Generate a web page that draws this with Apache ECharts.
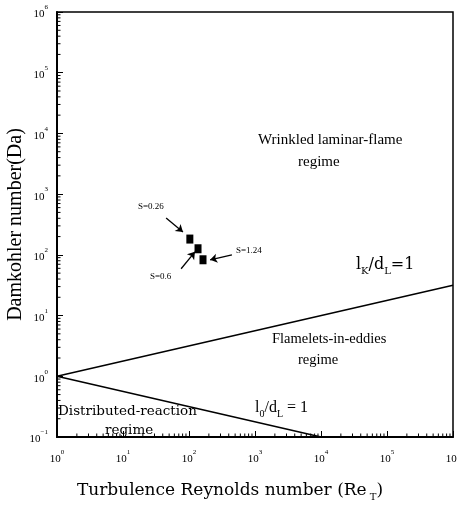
<!DOCTYPE html>
<html><head><meta charset="utf-8">
<script src="https://cdn.jsdelivr.net/npm/echarts@6/dist/echarts.min.js"></script>
<style>html,body{margin:0;padding:0;background:#fff}#c{width:457px;height:506px}</style>
</head><body><div id="c"></div>
<script>
// Tick exponents (labels 10^n)
var xTickExp = [0, 1, 2, 3, 4, 5, 6];
var yTickExp = [-1, 0, 1, 2, 3, 4, 5, 6];
// Boundary lines
var lineKolmogorov = [[1, 1], [1e6, 31.6]];      // lK/dL = 1
var lineIntegral = [[1, 1], [1e4, 0.1]];          // l0/dL = 1
// Experimental points
var pointNames = ['S=0.26', 'S=0.6', 'S=1.24'];
var pointRe = [103, 137, 163];
var pointDa = [182, 126, 83];
// Annotation arrows [from, to] in data space
var arrows = [
  [[45, 404], [81, 238]],
  [[76, 59], [123, 112]],
  [[447, 100], [209, 83]]
];
var minorX = [], minorY = [];
for (var e = 0; e < 6; e++) for (var k = 2; k <= 9; k++) minorX.push(k * Math.pow(10, e));
for (var e2 = -1; e2 < 6; e2++) for (var k2 = 2; k2 <= 9; k2++) minorY.push(k2 * Math.pow(10, e2));

var FONT = '"Liberation Serif", "DejaVu Serif", serif';
function expLabel(v) {
  var n = Math.round(Math.log10(v));
  return '{b|10}{s|' + (n < 0 ? '\u2212' + (-n) : n) + '}';
}
var tickRich = {
  b: {fontFamily: FONT, fontSize: 11, color: '#000', lineHeight: 16, verticalAlign: 'bottom'},
  s: {fontFamily: FONT, fontSize: 7, color: '#000', lineHeight: 16, verticalAlign: 'top'}
};

var chart = echarts.init(document.getElementById('c'));
var option = {
  animation: false,
  backgroundColor: '#fff',
  grid: {left: 57, right: 4, top: 12, bottom: 69, show: true, borderColor: '#000', borderWidth: 1.5,
    containLabel: false, outerBoundsMode: 'none'},
  xAxis: {
    type: 'log', logBase: 10, min: 1, max: 1e6,
    axisLine: {lineStyle: {color: '#000', width: 2}},
    axisTick: {inside: true, length: 6, lineStyle: {color: '#000', width: 1}},
    splitLine: {show: false},
    axisLabel: {margin: 12, formatter: function (v) {
      var n = Math.round(Math.log10(v));
      return xTickExp.indexOf(n) >= 0 ? expLabel(v) : '';
    }, rich: tickRich},
    name: '{t|Turbulence Reynolds number (Re}{sub| T}{t|)}',
    nameLocation: 'middle', nameGap: 43, nameMoveOverlap: false,
    nameTextStyle: {padding: [0, 50, 0, 0], rich: {
      t: {fontFamily: '"DejaVu Serif", serif', fontSize: 17, color: '#000', lineHeight: 22},
      sub: {fontFamily: '"DejaVu Serif", serif', fontSize: 10, color: '#000', lineHeight: 22, verticalAlign: 'bottom'}
    }}
  },
  yAxis: {
    type: 'log', logBase: 10, min: 0.1, max: 1e6,
    axisLine: {lineStyle: {color: '#000', width: 2}},
    axisTick: {inside: true, length: 6, lineStyle: {color: '#000', width: 1}},
    splitLine: {show: false},
    axisLabel: {margin: 9, formatter: function (v) {
      var n = Math.round(Math.log10(v));
      return yTickExp.indexOf(n) >= 0 ? expLabel(v) : '';
    }, rich: tickRich},
    name: 'Damkohler number(Da)',
    nameLocation: 'middle', nameGap: 31, nameMoveOverlap: false,
    nameTextStyle: {fontFamily: FONT, fontSize: 20, color: '#000'}
  },
  series: [
    {type: 'line', data: lineKolmogorov, symbol: 'none', lineStyle: {color: '#000', width: 1.5}, silent: true},
    {type: 'line', data: lineIntegral, symbol: 'none', lineStyle: {color: '#000', width: 1.5}, silent: true},
    {type: 'scatter', symbol: 'rect', symbolSize: [7, 9], itemStyle: {color: '#000', opacity: 1},
      data: pointRe.map(function (r, i) { return [r, pointDa[i], pointNames[i]]; }),
      markLine: {
        silent: true, animation: false,
        symbol: ['none', 'arrow'], symbolSize: 7,
        label: {show: false},
        lineStyle: {color: '#000', width: 1.3, type: 'solid'},
        data: arrows.map(function (a) { return [{coord: a[0]}, {coord: a[1]}]; })
      }
    },
    {type: 'custom', silent: true, clip: true,
      data: minorX.map(function (v) { return [v, 0.1]; }),
      renderItem: function (params, api) {
        var p = api.coord([api.value(0), api.value(1)]);
        return {type: 'line', shape: {x1: p[0], y1: p[1], x2: p[0], y2: p[1] - 3.5}, style: {stroke: '#000', lineWidth: 1}};
      }
    },
    {type: 'custom', silent: true, clip: true,
      data: minorY.map(function (v) { return [1, v]; }),
      renderItem: function (params, api) {
        var p = api.coord([api.value(0), api.value(1)]);
        return {type: 'line', shape: {x1: p[0], y1: p[1], x2: p[0] + 3.5, y2: p[1]}, style: {stroke: '#000', lineWidth: 1}};
      }
    }
  ],
  graphic: [
    {type: 'text', left: 258, top: 133, style: {text: 'Wrinkled laminar-flame', font: '15px ' + FONT, fill: '#000'}},
    {type: 'text', left: 298, top: 155, style: {text: 'regime', font: '15px ' + FONT, fill: '#000'}},
    {type: 'text', left: 272, top: 332, style: {text: 'Flamelets-in-eddies', font: '14.5px ' + FONT, fill: '#000'}},
    {type: 'text', left: 298, top: 353, style: {text: 'regime', font: '14.5px ' + FONT, fill: '#000'}},
    {type: 'text', left: 58, top: 404, style: {text: 'Distributed-reaction', font: '13.5px "DejaVu Serif", serif', fill: '#000'}},
    {type: 'text', left: 105, top: 423, style: {text: 'regime', font: '13.5px "DejaVu Serif", serif', fill: '#000'}},
    {type: 'text', left: 138, top: 202, style: {text: 'S=0.26', font: '9px ' + FONT, fill: '#000'}},
    {type: 'text', left: 150, top: 272, style: {text: 'S=0.6', font: '9px ' + FONT, fill: '#000'}},
    {type: 'text', left: 236, top: 246, style: {text: 'S=1.24', font: '9px ' + FONT, fill: '#000'}},
    {type: 'text', left: 356, top: 257, style: {
      text: '{m|l}{u|K}{m|/d}{u|L}{m|=1}',
      rich: {
        m: {fontFamily: '"DejaVu Serif", serif', fontSize: 16, fill: '#000', lineHeight: 22},
        u: {fontFamily: '"DejaVu Serif", serif', fontSize: 10, fill: '#000', lineHeight: 22, verticalAlign: 'bottom'}
      }}},
    {type: 'text', left: 255, top: 400, style: {
      text: '{m|l}{u|0}{m|/d}{u|L}{m| = 1}',
      rich: {
        m: {fontFamily: FONT, fontSize: 16, fill: '#000', lineHeight: 22},
        u: {fontFamily: FONT, fontSize: 10, fill: '#000', lineHeight: 22, verticalAlign: 'bottom'}
      }}}
  ]
};
chart.setOption(option);
</script>
</body></html>
